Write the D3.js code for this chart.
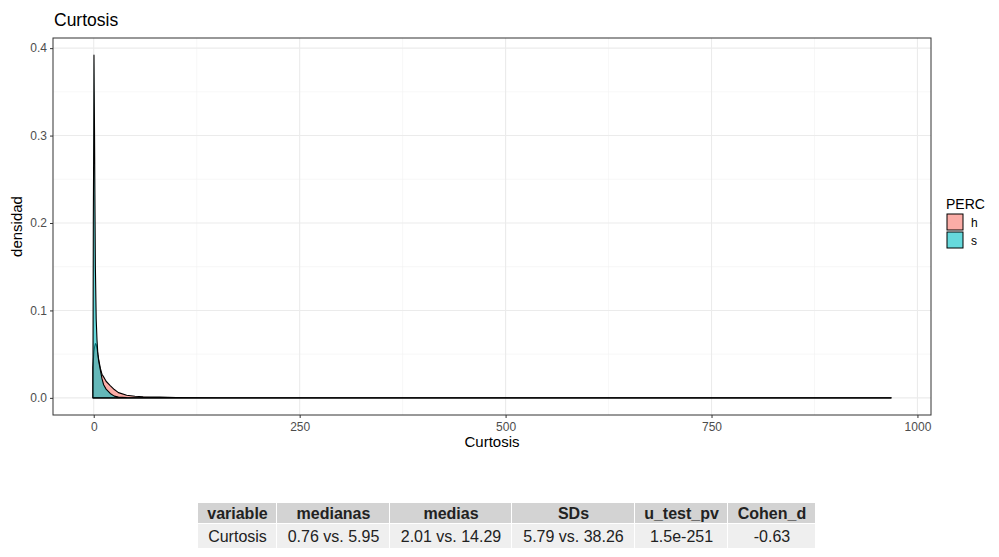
<!DOCTYPE html>
<html>
<head>
<meta charset="utf-8">
<script src="https://cdn.jsdelivr.net/npm/d3@7"></script>
<style>
  body { margin: 0; background: #fff; }
  svg text { font-family: "Liberation Sans", Arial, sans-serif; }
</style>
</head>
<body>
<div id="chart"></div>
<script>
// --- Daten ---------------------------------------------------------------- //
var curtX = [-1, -0.5, 0, 0.3, 0.6, 1, 1.5, 2, 3, 4, 5, 6, 8, 10, 12, 15, 20, 25, 30, 40, 50, 60, 80, 100, 150, 200, 300, 500, 700, 968];
var densH = [0.035, 0.042, 0.05, 0.053, 0.055, 0.058, 0.06, 0.062, 0.061, 0.056, 0.05, 0.044, 0.034, 0.027, 0.024, 0.019, 0.014, 0.0095, 0.006, 0.003, 0.0018, 0.0013, 0.0008, 0.0005, 0.0002, 0.0001, 0.00005, 0.00002, 0.00001, 0.00001];
var densS = [0.0, 0.2, 0.30, 0.392, 0.35, 0.30, 0.22, 0.15, 0.09, 0.066, 0.05, 0.042, 0.032, 0.022, 0.015, 0.01, 0.005, 0.002, 0.001, 0.0003, 0.0002, 0.0001, 0.00005, 0.00002, 0, 0, 0, 0, 0, 0];
var groups = ['h', 's'];
var groupColors = ['#F8766D', '#00BFC4'];
var xTicks = [0, 250, 500, 750, 1000];
var xMinor = [125, 375, 625, 875];
var yTicks = [0, 0.1, 0.2, 0.3, 0.4];
var yMinor = [0.05, 0.15, 0.25, 0.35];

var tableHeader = ['variable', 'medianas', 'medias', 'SDs', 'u_test_pv', 'Cohen_d'];
var tableRow = ['Curtosis', '0.76 vs. 5.95', '2.01 vs. 14.29', '5.79 vs. 38.26', '1.5e-251', '-0.63'];

// --- SVG ------------------------------------------------------------------ //
var W = 999, H = 557;
var panel = { left: 53, right: 931, top: 38, bottom: 415 };

var svg = d3.select('#chart').append('svg')
    .attr('width', W)
    .attr('height', H);

var xExt = d3.extent(curtX);
var xPad = (xExt[1] - xExt[0]) * 0.05;
var x = d3.scaleLinear()
    .domain([xExt[0] - xPad, xExt[1] + xPad])
    .range([panel.left, panel.right]);

var yMax = d3.max(densS.concat(densH));
var y = d3.scaleLinear()
    .domain([-yMax * 0.05, yMax * 1.05])
    .range([panel.bottom, panel.top]);

// grid
var grid = svg.append('g');
xMinor.forEach(function (v) {
    grid.append('line').attr('x1', x(v)).attr('x2', x(v))
        .attr('y1', panel.top).attr('y2', panel.bottom)
        .attr('stroke', '#F2F2F2').attr('stroke-width', 0.6);
});
yMinor.forEach(function (v) {
    grid.append('line').attr('y1', y(v)).attr('y2', y(v))
        .attr('x1', panel.left).attr('x2', panel.right)
        .attr('stroke', '#F2F2F2').attr('stroke-width', 0.6);
});
xTicks.forEach(function (v) {
    grid.append('line').attr('x1', x(v)).attr('x2', x(v))
        .attr('y1', panel.top).attr('y2', panel.bottom)
        .attr('stroke', '#EBEBEB').attr('stroke-width', 1.1);
});
yTicks.forEach(function (v) {
    grid.append('line').attr('y1', y(v)).attr('y2', y(v))
        .attr('x1', panel.left).attr('x2', panel.right)
        .attr('stroke', '#EBEBEB').attr('stroke-width', 1.1);
});

// densities
var area = d3.area()
    .x(function (d) { return x(d[0]); })
    .y0(y(0))
    .y1(function (d) { return y(d[1]); });

[densH, densS].forEach(function (dens, i) {
    var pts = curtX.map(function (v, j) { return [v, dens[j]]; });
    svg.append('path')
        .datum(pts)
        .attr('d', area)
        .attr('fill', groupColors[i])
        .attr('fill-opacity', 0.6)
        .attr('stroke', '#000')
        .attr('stroke-width', 1.1)
        .attr('stroke-linejoin', 'round');
});

// panel border
svg.append('rect')
    .attr('x', panel.left).attr('y', panel.top)
    .attr('width', panel.right - panel.left)
    .attr('height', panel.bottom - panel.top)
    .attr('fill', 'none')
    .attr('stroke', '#333').attr('stroke-width', 1);

// axes
var xAxis = svg.append('g')
    .attr('transform', 'translate(0,' + panel.bottom + ')')
    .call(d3.axisBottom(x).tickValues(xTicks).tickSize(3).tickPadding(4).tickFormat(d3.format('d')));
var yAxis = svg.append('g')
    .attr('transform', 'translate(' + panel.left + ',0)')
    .call(d3.axisLeft(y).tickValues(yTicks).tickSize(3).tickPadding(3).tickFormat(d3.format('.1f')));

[xAxis, yAxis].forEach(function (ax) {
    ax.select('.domain').remove();
    ax.selectAll('.tick line').attr('stroke', '#333');
    ax.selectAll('.tick text')
        .attr('fill', '#4D4D4D')
        .attr('font-size', '12px')
        .attr('font-family', '"Liberation Sans", Arial, sans-serif');
});

// titles
svg.append('text')
    .attr('x', panel.left + 1).attr('y', 26)
    .attr('font-size', '17.5px').attr('fill', '#000')
    .text('Curtosis');

svg.append('text')
    .attr('x', (panel.left + panel.right) / 2).attr('y', 447)
    .attr('text-anchor', 'middle')
    .attr('font-size', '15px').attr('fill', '#000')
    .text('Curtosis');

svg.append('text')
    .attr('transform', 'translate(22,' + ((panel.top + panel.bottom) / 2) + ') rotate(-90)')
    .attr('text-anchor', 'middle')
    .attr('font-size', '15px').attr('fill', '#000')
    .text('densidad');

// legend
var legend = svg.append('g').attr('transform', 'translate(946,0)');
legend.append('text')
    .attr('x', 0).attr('y', 209)
    .attr('font-size', '14px').attr('fill', '#000')
    .text('PERC');
groups.forEach(function (g, i) {
    legend.append('rect')
        .attr('x', 1).attr('y', 214 + i * 18)
        .attr('width', 16).attr('height', 16)
        .attr('fill', groupColors[i]).attr('fill-opacity', 0.6)
        .attr('stroke', '#000').attr('stroke-width', 1);
    legend.append('text')
        .attr('x', 25).attr('y', 227 + i * 18)
        .attr('font-size', '12px').attr('fill', '#000')
        .text(g);
});

// table
var colW = [79, 113, 122, 123, 93, 88];
var tableX = 198, headTop = 503, headH = 21, bodyH = 24;
var tbl = svg.append('g');
var cx = tableX;
tableHeader.forEach(function (h, i) {
    tbl.append('rect')
        .attr('x', cx).attr('y', headTop)
        .attr('width', colW[i] - 1).attr('height', headH - 1)
        .attr('fill', '#D3D3D3');
    tbl.append('rect')
        .attr('x', cx).attr('y', headTop + headH)
        .attr('width', colW[i] - 1).attr('height', bodyH)
        .attr('fill', '#EFEFEF');
    tbl.append('text')
        .attr('x', cx + colW[i] / 2).attr('y', headTop + 16)
        .attr('text-anchor', 'middle')
        .attr('font-size', '16px').attr('font-weight', 'bold').attr('fill', '#222')
        .text(h);
    tbl.append('text')
        .attr('x', cx + colW[i] / 2).attr('y', headTop + headH + 18)
        .attr('text-anchor', 'middle')
        .attr('font-size', '16px').attr('fill', '#222')
        .text(tableRow[i]);
    cx += colW[i];
});
</script>
</body>
</html>
